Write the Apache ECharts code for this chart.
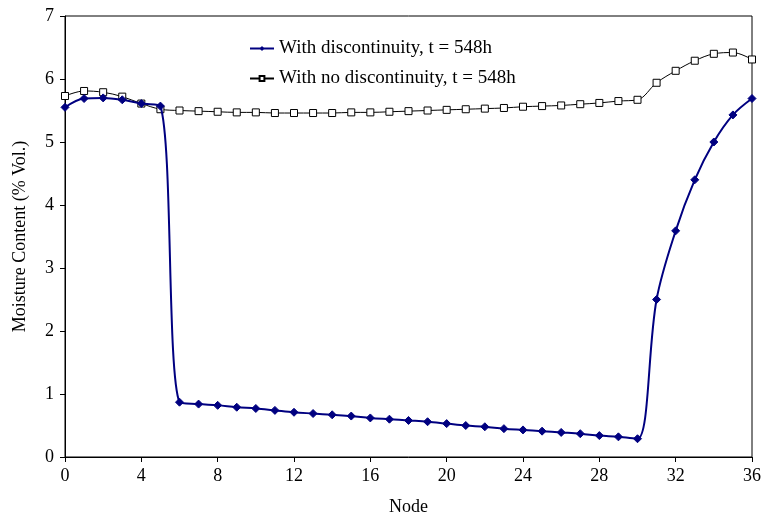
<!DOCTYPE html>
<html>
<head>
<meta charset="utf-8">
<script src="https://cdn.jsdelivr.net/npm/echarts@6/dist/echarts.min.js"></script>
<style>html,body{margin:0;padding:0;background:#fff}#c{width:768px;height:521px}</style>
</head>
<body>
<div id="c"></div>
<script>
var nodes = [];
for (var i = 0; i <= 36; i++) nodes.push(i);
var withDisc = [5.55,5.69,5.70,5.67,5.61,5.57,0.87,0.84,0.82,0.79,0.77,0.74,0.71,0.69,0.67,0.65,0.62,0.60,0.58,0.56,0.53,0.50,0.48,0.45,0.43,0.41,0.39,0.37,0.34,0.32,0.29,2.50,3.59,4.40,5.00,5.43,5.69];
var noDisc = [5.73,5.81,5.79,5.72,5.61,5.52,5.50,5.49,5.48,5.47,5.47,5.46,5.46,5.46,5.46,5.47,5.47,5.48,5.49,5.50,5.51,5.52,5.53,5.54,5.56,5.57,5.58,5.60,5.62,5.65,5.67,5.94,6.13,6.29,6.40,6.42,6.31];
var seriesNames = ['With discontinuity, t = 548h', 'With no discontinuity, t = 548h'];

var font = '"Liberation Serif", "Times New Roman", serif';
var chart = echarts.init(document.getElementById('c'), null, {renderer: 'canvas'});
chart.setOption({
  animation: false,
  textStyle: {fontFamily: font},
  grid: {left: 65, top: 16, right: 16, bottom: 64, show: true, borderColor: '#000', borderWidth: 1, backgroundColor: 'transparent'},
  legend: {
    orient: 'vertical', left: 244, top: 34, itemGap: 11, itemWidth: 24, itemHeight: 6,
    textStyle: {fontFamily: font, fontSize: 19, color: '#000'},
    data: seriesNames
  },
  xAxis: {
    type: 'value', min: 0, max: 36, interval: 4,
    name: 'Node', nameLocation: 'middle', nameGap: 41,
    nameTextStyle: {fontFamily: font, fontSize: 18, color: '#000'},
    axisLine: {show: true, onZero: false, lineStyle: {color: '#000', width: 1}},
    axisTick: {show: true, inside: false, length: 5, lineStyle: {color: '#000'}},
    axisLabel: {fontFamily: font, fontSize: 18, color: '#000', margin: 10},
    splitLine: {show: false}
  },
  yAxis: {
    type: 'value', min: 0, max: 7, interval: 1,
    name: 'Moisture Content (% Vol.)', nameLocation: 'middle', nameGap: 36,
    nameTextStyle: {fontFamily: font, fontSize: 18, color: '#000'},
    axisLine: {show: true, lineStyle: {color: '#000', width: 1}},
    axisTick: {show: true, inside: false, length: 5, lineStyle: {color: '#000'}},
    axisLabel: {fontFamily: font, fontSize: 18, color: '#000', margin: 11},
    splitLine: {show: false}
  },
  series: [
    {
      name: seriesNames[0], type: 'line', smooth: 0.35,
      data: nodes.map(function (n, i) { return [n, withDisc[i]]; }),
      symbol: 'diamond', symbolSize: 8, showAllSymbol: true,
      lineStyle: {color: '#000080', width: 2},
      itemStyle: {color: '#000080', borderColor: '#000080'},
      z: 3
    },
    {
      name: seriesNames[1], type: 'line', smooth: 0.35,
      data: nodes.map(function (n, i) { return [n, noDisc[i]]; }),
      symbol: 'rect', symbolSize: 7, showAllSymbol: true,
      lineStyle: {color: '#000', width: 1},
      itemStyle: {color: '#fff', borderColor: '#000', borderWidth: 1},
      z: 2
    }
  ]
});
</script>
</body>
</html>
